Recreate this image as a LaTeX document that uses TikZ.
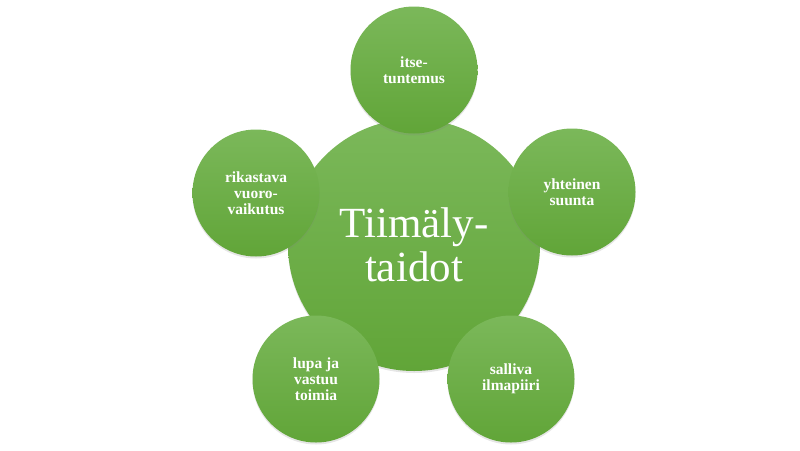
\documentclass[tikz,border=0pt]{standalone}
\usepackage{fontspec}
\setmainfont{Liberation Serif}
\usepackage{xcolor}
\usetikzlibrary{shadows,positioning}

\definecolor{vihreaylin}{HTML}{7BB85A}
\definecolor{vihreaalin}{HTML}{61A538}

\begin{document}
\begin{tikzpicture}[x=1pt, y=-1pt,
    pallo/.style={circle, inner sep=0pt, draw=none, text=white, align=center,
        top color=vihreaylin, bottom color=vihreaalin,
        drop shadow={shadow xshift=0pt, shadow yshift=-2pt, opacity=0.2}},
    pieni/.style={pallo, minimum size=127pt, font={\fontsize{15.5}{16}\selectfont\bfseries}},
    iso/.style={pallo, minimum size=252pt, font={\fontsize{43}{44}\selectfont}}]
    \useasboundingbox (0,0) rectangle (800,450);
    % keskimmäinen pallo
    \node[iso] (taidot) at (414,245) {Tiimäly-\\taidot};
    % ympäröivät pallot
    \node[pieni] (itse)  at (414,70)  {itse-\\tuntemus};
    \node[pieni] (suunta) at (572,192) {yhteinen\\suunta};
    \node[pieni] (ilma)  at (511,379) {salliva\\ilmapiiri};
    \node[pieni] (lupa)  at (316,379) {lupa ja\\vastuu\\toimia};
    \node[pieni] (vuoro) at (256,193) {rikastava\\vuoro-\\vaikutus};
\end{tikzpicture}
\end{document}
